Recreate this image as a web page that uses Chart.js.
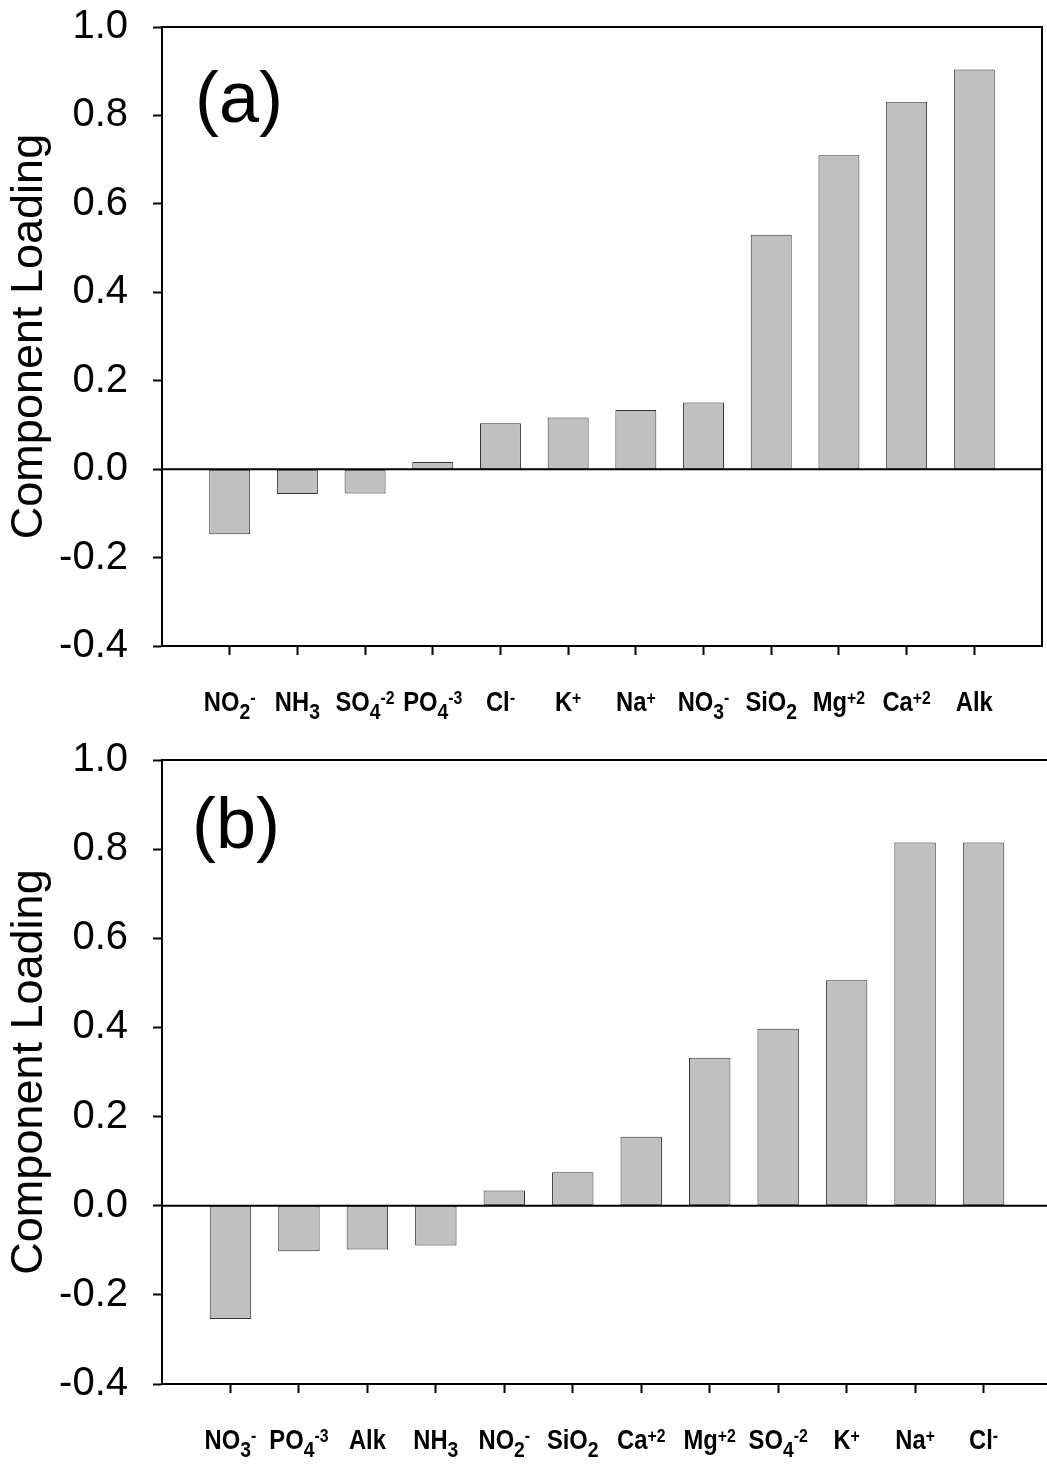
<!DOCTYPE html>
<html>
<head>
<meta charset="utf-8">
<script src="https://cdn.jsdelivr.net/npm/chart.js@4.4.1/dist/chart.umd.min.js"></script>
<style>
  html, body { margin: 0; padding: 0; background: #fff; overflow: hidden; }
  .panel { position: absolute; left: 0; }
</style>
</head>
<body>
<div class="panel" style="top:0"><canvas id="chartA" width="1047" height="732"></canvas></div>
<div class="panel" style="top:732px"><canvas id="chartB" width="1056" height="732"></canvas></div>
<script>
// labels: _ = subscript, ^ = superscript
const catsA = ['NO_2^-', 'NH_3', 'SO_4^-2', 'PO_4^-3', 'Cl^-', 'K^+', 'Na^+', 'NO_3^-', 'SiO_2', 'Mg^+2', 'Ca^+2', 'Alk'];
const loadA = [-0.147, -0.056, -0.055, 0.016, 0.104, 0.117, 0.134, 0.151, 0.530, 0.710, 0.831, 0.904];

const catsB = ['NO_3^-', 'PO_4^-3', 'Alk', 'NH_3', 'NO_2^-', 'SiO_2', 'Ca^+2', 'Mg^+2', 'SO_4^-2', 'K^+', 'Na^+', 'Cl^-'];
const loadB = [-0.254, -0.102, -0.098, -0.089, 0.034, 0.075, 0.155, 0.332, 0.397, 0.506, 0.815, 0.815];

const yTicks = [-0.4, -0.2, 0.0, 0.2, 0.4, 0.6, 0.8, 1.0];

const fam = '"Liberation Sans", Arial, Helvetica, sans-serif';
Chart.defaults.font.family = fam;
Chart.defaults.color = '#000';

function splitLabel(s) {
    var m = s.match(/^([^_^]*)(?:_(\d+))?(?:\^(.+))?$/);
    return { base: m[1], sub: m[2] || '', sup: m[3] || '' };
}

// chemical names under the x axis, with sub/superscripts (slightly condensed)
const chemLabels = {
    id: 'chemLabels',
    afterDraw(chart, args, opts) {
        const c = chart.ctx;
        const xs = chart.scales.x;
        const y = chart.chartArea.bottom + opts.offset;
        chart.data.labels.forEach(function (lab, i) {
            if (!lab) return;
            const p = splitLabel(lab);
            const parts = [
                { t: p.base, f: 'bold 27px ' + fam, dy: 0 },
                { t: p.sub, f: 'bold 22px ' + fam, dy: 8 },
                { t: p.sup, f: 'bold 18px ' + fam, dy: -7 }
            ];
            let w = 0;
            parts.forEach(function (q) { c.font = q.f; q.w = c.measureText(q.t).width; w += q.w; });
            c.save();
            c.fillStyle = '#000';
            c.textAlign = 'left';
            c.textBaseline = 'alphabetic';
            c.translate(xs.getPixelForValue(i), y);
            c.scale(opts.squeeze, 1);
            let x = -w / 2;
            parts.forEach(function (q) { c.font = q.f; c.fillText(q.t, x, q.dy); x += q.w; });
            c.restore();
        });
    }
};

// top/right frame, zero line and the panel letter
const frame = {
    id: 'frame',
    afterDatasetsDraw(chart, args, opts) {
        const c = chart.ctx;
        const a = chart.chartArea;
        const y0 = chart.scales.y.getPixelForValue(0);
        c.save();
        c.strokeStyle = '#000';
        c.lineWidth = 2;
        c.beginPath();
        c.moveTo(a.left, a.top);
        c.lineTo(a.right, a.top);
        c.lineTo(a.right, a.bottom);
        c.moveTo(a.left, y0);
        c.lineTo(a.right, y0);
        c.stroke();
        c.fillStyle = '#000';
        c.font = '72px ' + fam;
        c.textBaseline = 'alphabetic';
        c.fillText(opts.text, a.left + opts.dx, a.top + opts.dy);
        c.restore();
    }
};

function makeChart(id, cats, vals, lay) {
    const labels = [''].concat(cats, ['']);
    const data = [null].concat(vals, [null]);
    const last = labels.length - 1;
    return new Chart(document.getElementById(id), {
        type: 'bar',
        data: {
            labels: labels,
            datasets: [{
                data: data,
                backgroundColor: '#c0c0c0',
                borderColor: '#333',
                borderWidth: 1,
                borderSkipped: false,
                barPercentage: 0.605,
                categoryPercentage: 1
            }]
        },
        plugins: [chemLabels, frame],
        options: {
            responsive: false,
            animation: false,
            layout: { padding: { top: lay.top, right: lay.right, bottom: 0, left: 0 } },
            plugins: {
                legend: { display: false },
                tooltip: { enabled: false },
                chemLabels: { offset: 65, squeeze: 0.88 },
                frame: { text: lay.letter, dx: lay.dx, dy: lay.dy }
            },
            scales: {
                x: {
                    offset: false,
                    ticks: { display: false },
                    grid: {
                        offset: false,
                        drawOnChartArea: false,
                        tickLength: 9,
                        tickWidth: 2,
                        tickColor: function (ctx) {
                            return (ctx.index === 0 || ctx.index === last) ? 'rgba(0,0,0,0)' : '#000';
                        }
                    },
                    border: { color: '#000', width: 2 },
                    afterFit: function (s) { s.height = lay.xh; }
                },
                y: {
                    min: yTicks[0],
                    max: yTicks[yTicks.length - 1],
                    afterBuildTicks: function (s) { s.ticks = yTicks.map(function (v) { return { value: v }; }); },
                    ticks: {
                        font: { size: 40 },
                        padding: 25,
                        callback: function (v) { return Number(v).toFixed(1); }
                    },
                    grid: { drawOnChartArea: false, tickLength: 9, tickWidth: 2, tickColor: '#000' },
                    border: { color: '#000', width: 2 },
                    title: {
                        display: true,
                        text: 'Component Loading',
                        font: { size: 45 },
                        padding: { top: 3, bottom: 0 }
                    },
                    afterFit: function (s) {
                        s.width = 162;
                        s.paddingTop = 0;
                        s.paddingBottom = 0;
                    }
                }
            }
        }
    });
}

makeChart('chartA', catsA, loadA, { top: 27, right: 5, xh: 86, letter: '(a)', dx: 33, dy: 95 });
makeChart('chartB', catsB, loadB, { top: 28, right: 4, xh: 80, letter: '(b)', dx: 30, dy: 88 });
</script>
</body>
</html>
